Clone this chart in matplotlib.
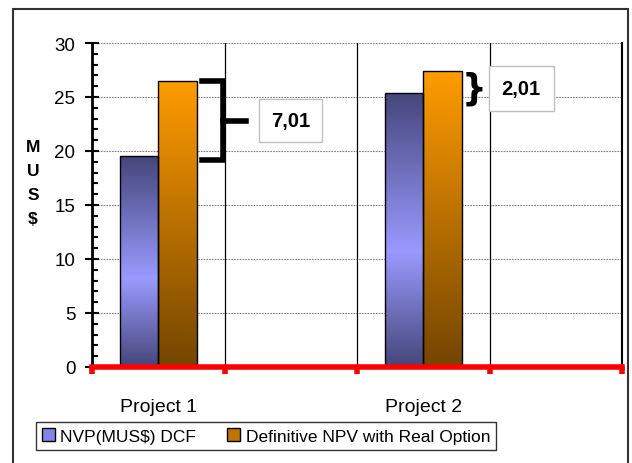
import numpy as np
import matplotlib
matplotlib.use('Agg')
from matplotlib import pyplot as plt
from matplotlib.colors import LinearSegmentedColormap
from matplotlib.patches import Patch, Rectangle

plt.rcParams['font.family'] = ['Liberation Sans', 'DejaVu Sans']

# data
categories = ['Project 1', '', 'Project 2', '']
dcf_npv = [19.5, 0, 25.4, 0]
real_option_npv = [26.51, 0, 27.41, 0]
series_names = ['NVP(MUS$) DCF', 'Definitive NPV with Real Option']
gap_labels = ['7,01', '2,01']

blue_cmap = LinearSegmentedColormap.from_list(
    'blue_grad', [(0, '#45467a'), (0.58, '#9a9aff'), (1, '#45467a')])
orange_cmap = LinearSegmentedColormap.from_list(
    'orange_grad', [(0, '#ff9c00'), (1, '#734500')])

fig = plt.figure(figsize=(6.32, 4.64), dpi=100)
ax = fig.add_axes([92 / 632, 96 / 464, 530 / 632, 324 / 464])

x = np.arange(len(categories))
w = 0.29


def gradient_bars(xs, heights, cmap):
    bars = ax.bar(xs, heights, width=w, align='edge', edgecolor='black',
                  linewidth=1, facecolor='none', zorder=3)
    grad = np.linspace(0, 1, 256).reshape(-1, 1)
    for b in bars:
        if b.get_height() <= 0:
            continue
        x0, y0 = b.get_x(), b.get_y()
        im = ax.imshow(grad, cmap=cmap, aspect='auto', zorder=2,
                       extent=[x0, x0 + b.get_width(), y0, y0 + b.get_height()],
                       origin='upper')
        im.set_clip_path(b)
    return bars


gradient_bars(x - w, dcf_npv, blue_cmap)
gradient_bars(x, real_option_npv, orange_cmap)

ax.set_xlim(-0.5, 3.5)
ax.set_ylim(0, 30)
ax.set_yticks(range(0, 31, 5))
ax.set_yticks(range(0, 31, 1), minor=True)
ax.tick_params(axis='y', which='major', direction='inout', length=10,
               width=1.5, labelsize=13.5, pad=7)
ax.tick_params(axis='y', which='minor', direction='in', length=4, width=1.5)
ax.set_xticks(x)
ax.set_xticklabels(categories)
ax.set_xticks(np.arange(-0.5, 4, 1), minor=True)
ax.tick_params(axis='x', which='major', length=0, labelsize=14, pad=22)
ax.tick_params(axis='x', which='minor', direction='out', length=5, width=4,
               color='red')

# grid
ax.yaxis.grid(True, linestyle=(0, (1.5, 1)), color='#808080', linewidth=0.8)
for xv in [0.5, 1.5, 2.5]:
    ax.axvline(xv, color='black', linewidth=0.9, zorder=1)
ax.set_axisbelow(True)

ax.spines['top'].set_visible(False)
ax.spines['right'].set_linewidth(1.5)
ax.spines['left'].set_linewidth(2)
ax.spines['bottom'].set_color('red')
ax.spines['bottom'].set_linewidth(4)
ax.spines['bottom'].set_zorder(5)

# bracket for project 1
i = 0
lo, hi = dcf_npv[i], real_option_npv[i]
ax.plot([0.33, 0.485, 0.485, 0.33], [hi, hi, lo - 0.3, lo - 0.3],
        color='black', linewidth=4, solid_joinstyle='miter', zorder=4,
        clip_on=False)
ax.plot([0.485, 0.66], [(hi + lo) / 2 - 0.2, (hi + lo) / 2 - 0.2],
        color='black', linewidth=4, zorder=4)
ax.text(1.0, (hi + lo) / 2 - 0.2, gap_labels[0], ha='center', va='center',
        fontsize=14.5, fontweight='bold', zorder=6,
        bbox=dict(boxstyle='square,pad=0.6', facecolor='white',
                  edgecolor='#c0c0c0', linewidth=1))

# brace for project 2
i = 2
lo, hi = dcf_npv[i], real_option_npv[i]
ax.text(2.38, 25.9, '}', ha='center', va='center',
        fontsize=25, fontweight='bold', family='DejaVu Sans', zorder=6)
ax.text(2.74, 25.75, gap_labels[1], ha='center', va='center',
        fontsize=14.5, fontweight='bold', zorder=6,
        bbox=dict(boxstyle='square,pad=0.65', facecolor='white',
                  edgecolor='#c0c0c0', linewidth=1))

fig.text(33 / 632, 1 - 184 / 464, 'M\nU\nS\n$', ha='center', va='center',
         fontsize=12.5, fontweight='bold', linespacing=1.75)

handles = [Patch(facecolor='#8484e6', edgecolor='black', linewidth=1),
           Patch(facecolor='#c07400', edgecolor='black', linewidth=1)]
leg = fig.legend(handles, series_names, loc='center',
                 bbox_to_anchor=(266 / 632, 1 - 437 / 464), ncol=2,
                 fontsize=12.5, frameon=True, fancybox=False, shadow=False,
                 handlelength=0.75, handleheight=0.75, handletextpad=0.3,
                 columnspacing=1.8, borderpad=0.35)
leg.get_frame().set_edgecolor('black')
leg.get_frame().set_linewidth(1)

# outer chart border
fig.patches.append(Rectangle((13 / 632, -0.02), 615 / 632, 1.01 - 5 / 464,
                             transform=fig.transFigure, fill=False,
                             edgecolor='#333333', linewidth=1.5))

plt.savefig('out.png', dpi=100)
